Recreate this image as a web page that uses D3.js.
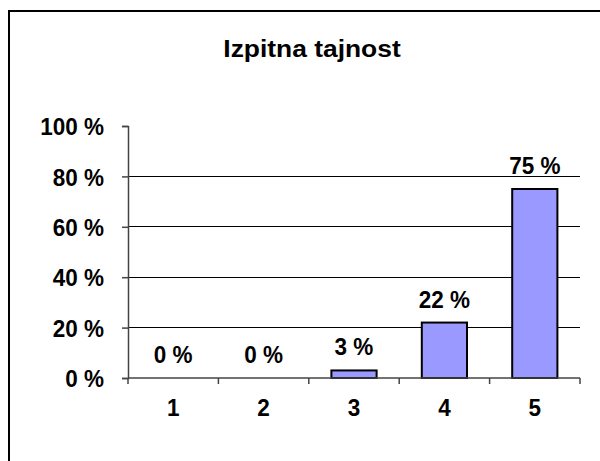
<!DOCTYPE html>
<html><head><meta charset="utf-8">
<script src="https://cdn.jsdelivr.net/npm/d3@7"></script>
<style>body{margin:0;background:#fff}svg{display:block}text{font-family:"Liberation Sans",Arial,sans-serif;font-weight:bold;fill:#000}</style>
</head><body><svg id="c" width="600" height="461"></svg>
<script>
const title = "Izpitna tajnost";
const categories = ["1","2","3","4","5"];
const values = [0, 0, 3, 22, 75];
const yTicks = [0, 20, 40, 60, 80, 100];

const svg = d3.select("#c");
svg.append("rect").attr("x",9).attr("y",11).attr("width",620).attr("height",470)
  .attr("fill","#fff").attr("stroke","#000").attr("stroke-width",2);

const m = {left:128, right:580, top:126, bottom:378};
const x = d3.scaleBand().domain(categories).range([m.left, m.right]).paddingInner(0.5).paddingOuter(0.25);
const y = d3.scaleLinear().domain([0,100]).range([m.bottom, m.top]);
const FS = "22.5px", SY = 1.1;

svg.append("text").attr("transform","translate(312,57) scale(1.1,1)").attr("text-anchor","middle")
  .style("font-size","24px").text(title);

// gridlines
svg.append("g").selectAll("line").data(yTicks.filter(d=>d>0 && d<100)).join("line")
  .attr("x1",m.left).attr("x2",m.right).attr("y1",d=>y(d)).attr("y2",d=>y(d))
  .attr("stroke","#000").attr("stroke-width",1).attr("shape-rendering","crispEdges");

// y axis
const ya = svg.append("g").attr("transform",`translate(${m.left},0)`)
  .call(d3.axisLeft(y).tickValues(yTicks).tickSize(6).tickPadding(18).tickFormat(d=>d+" %"));
ya.select(".domain").attr("stroke","#444").attr("stroke-width",1.5);
ya.selectAll(".tick line").attr("stroke","#444").attr("stroke-width",1.5);
ya.selectAll("text").style("font-size",FS).attr("dy","0.35em").attr("fill","#000")
  .attr("transform",`scale(1,${SY})`);

// bars
svg.append("g").selectAll("rect").data(values).join("rect")
  .attr("x",(d,i)=>x(categories[i])).attr("width",x.bandwidth())
  .attr("y",d=>y(d)).attr("height",d=>y(0)-y(d))
  .attr("fill","#9999FF").attr("stroke","#000").attr("stroke-width",2)
  .attr("display",d=>d>0?null:"none");

// x axis
const bounds = d3.range(categories.length+1).map(i=>m.left + i*x.step());
const xa = svg.append("g");
xa.append("line").attr("x1",m.left).attr("x2",m.right).attr("y1",y(0)).attr("y2",y(0))
  .attr("stroke","#444").attr("stroke-width",1.5);
xa.selectAll("line.t").data(bounds).join("line").attr("class","t")
  .attr("x1",d=>d).attr("x2",d=>d).attr("y1",y(0)).attr("y2",y(0)+6)
  .attr("stroke","#444").attr("stroke-width",1.5);
xa.selectAll("text").data(categories).join("text")
  .attr("transform",d=>`translate(${x(d)+x.bandwidth()/2},416) scale(1,${SY})`).attr("text-anchor","middle")
  .style("font-size",FS).text(d=>d);

// value labels
svg.append("g").selectAll("text").data(values).join("text")
  .attr("transform",(d,i)=>`translate(${x(categories[i])+x.bandwidth()/2},${y(d)-15}) scale(1,${SY})`)
  .attr("text-anchor","middle").style("font-size",FS).text(d=>d+" %");
</script></body></html>
